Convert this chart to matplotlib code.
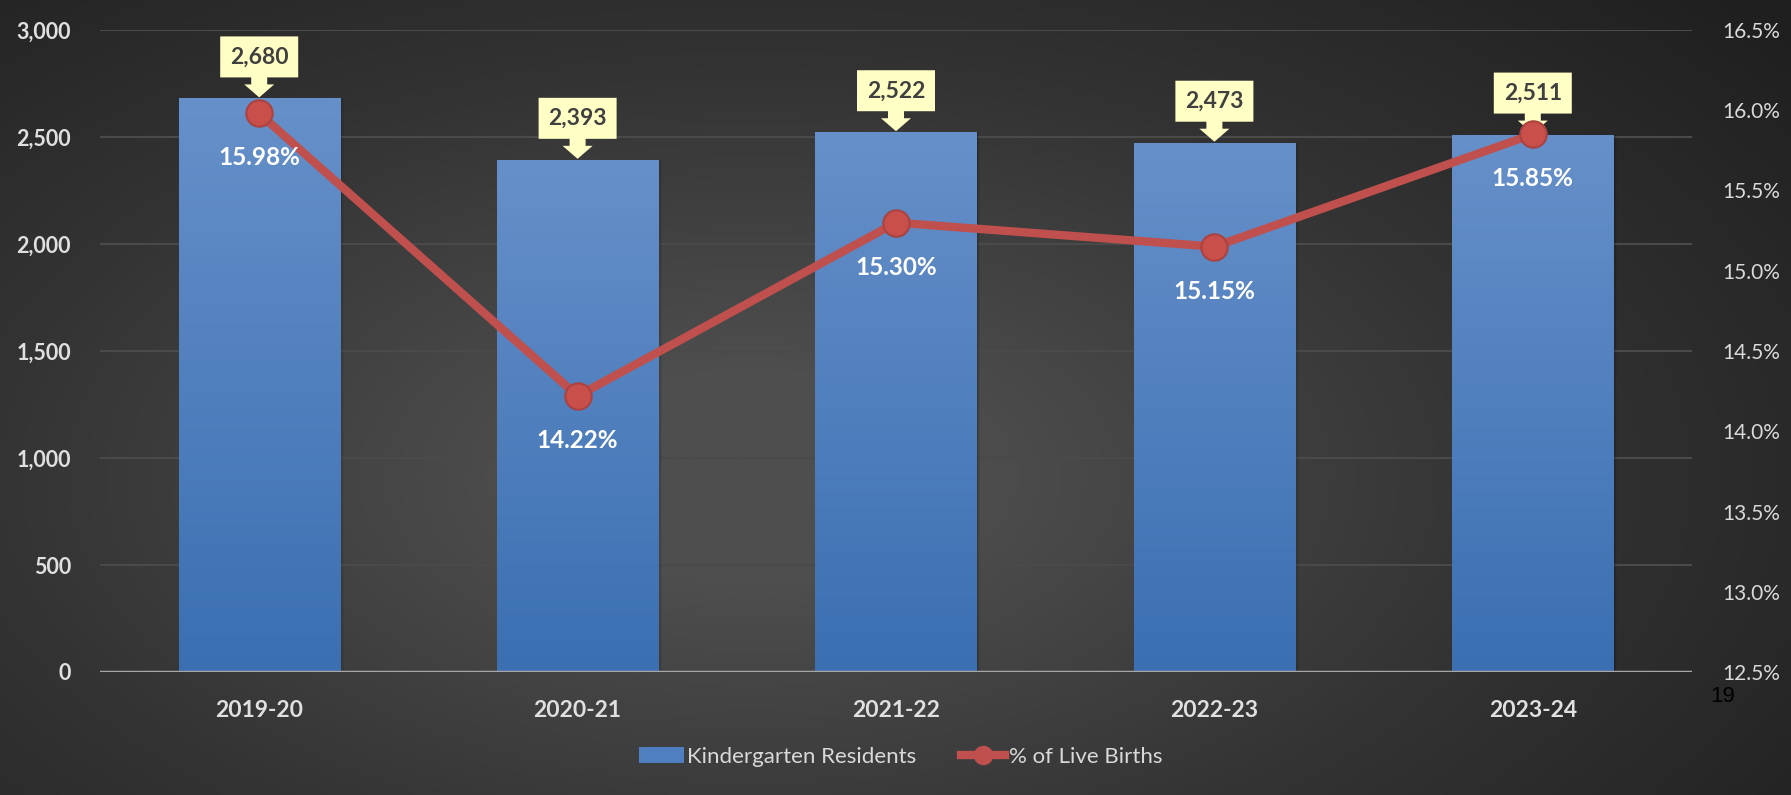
import numpy as np
import matplotlib.pyplot as plt
import matplotlib.transforms as mtransforms
from matplotlib.colors import LinearSegmentedColormap
from matplotlib.patches import Polygon, Rectangle, Patch
from matplotlib.lines import Line2D

plt.rcParams['font.family'] = ['Lato', 'DejaVu Sans']

# data
years = ['2019-20', '2020-21', '2021-22', '2022-23', '2023-24']
residents = [2680, 2393, 2522, 2473, 2511]
pct_births = [15.98, 14.22, 15.30, 15.15, 15.85]
left_ticks = [0, 500, 1000, 1500, 2000, 2500, 3000]
right_ticks = [12.5, 13.0, 13.5, 14.0, 14.5, 15.0, 15.5, 16.0, 16.5]

txt_col = '#E0E0E0'
red = '#C0504D'

fig = plt.figure(figsize=(17.91, 7.95), dpi=100)

# dark radial background
bg = fig.add_axes([0, 0, 1, 1], zorder=-10)
yy, xx = np.mgrid[0:1:300j, 0:1:600j]
r = np.sqrt(((xx - 0.42) / 0.75) ** 2 + ((yy - 0.6) / 0.9) ** 2)
shade = np.clip(1 - r, 0, 1)
bg.imshow(shade, cmap=LinearSegmentedColormap.from_list(
    'bgc', ['#1f1f1f', '#333333', '#4e4e4e']), extent=[0, 1, 0, 1],
    aspect='auto', origin='upper', vmin=0, vmax=0.85)
bg.axis('off')

ax = fig.add_axes([100 / 1791, 1 - 672 / 795, 1592 / 1791, 642 / 795])
ax.set_facecolor('none')
ax2 = ax.twinx()

x = np.arange(len(years))
w = 0.506
ax.grid(axis='y', color='#4a4a4a', linewidth=1.5, zorder=0)
ax.set_axisbelow(True)

grad = np.linspace(1, 0, 256).reshape(-1, 1)
bar_cmap = LinearSegmentedColormap.from_list('barc', ['#3B6FB2', '#6690C9'])
for xi, h in zip(x, residents):
    # soft shadow on the right
    for k, a in enumerate([0.12, 0.08, 0.05]):
        ax.add_patch(Rectangle((xi - w / 2 + 0.004 * (k + 1), 0), w, h, facecolor='black',
                               alpha=a, edgecolor='none', zorder=1))
    rect = Rectangle((xi - w / 2, 0), w, h, facecolor='none', edgecolor='none', zorder=2)
    ax.add_patch(rect)
    im = ax.imshow(grad, cmap=bar_cmap, extent=[xi - w / 2, xi + w / 2, 0, h],
                   aspect='auto', zorder=2, vmin=0, vmax=1)
    im.set_clip_path(rect)

ax.set_xlim(-0.5, len(years) - 0.5)
ax.set_ylim(0, 3000)
ax.axhline(0, color='#A6A6A6', linewidth=2.5, zorder=3)

# callouts above bars
shape = np.array([[-39, 20], [39, 20], [39, 61], [-39, 61], [-39, 20],
                  [-8, 20], [-8, 13], [-15, 13], [0, 0], [15, 13], [8, 13], [8, 20]]) / 100.0
for xi, h in zip(x, residents):
    tr = fig.dpi_scale_trans + mtransforms.ScaledTranslation(xi, h + 5, ax.transData)
    ax.add_patch(Polygon(shape, closed=True, transform=tr, facecolor='#FFFFC5',
                         edgecolor='none', zorder=6, clip_on=False))
    ax.text(0, 0.405, f'{h:,}', transform=tr, ha='center', va='center',
            fontsize=16.5, fontweight='bold', color='#404040', zorder=7, clip_on=False)

ax.tick_params(axis='x', length=0, pad=20)
ax.tick_params(axis='y', length=0, pad=21)
ax.set_xticks(x, years)
ax.set_yticks(left_ticks, [f'{v:,}' for v in left_ticks])
for s in ax.spines.values():
    s.set_visible(False)

# line on secondary axis
ax2.set_ylim(12.5, 16.5)
ax2.tick_params(axis='y', length=0, pad=22)
ax2.set_yticks(right_ticks, [f'{v:.1f}%' for v in right_ticks])
for s in ax2.spines.values():
    s.set_visible(False)
ax2.plot(x, pct_births, color=red, linewidth=6, marker='o', markersize=19,
         markerfacecolor='#C94F4B', markeredgecolor='#A94240', markeredgewidth=1.5,
         zorder=5, solid_capstyle='round')
for xi, p in zip(x, pct_births):
    ax2.annotate(f'{p:.2f}%', (xi, p), xytext=(0, -32), textcoords='offset points',
                 ha='center', va='center', fontsize=17.5, fontweight='bold', color='white',
                 zorder=8)

handles = [Patch(facecolor='#4F7FC0', edgecolor='none'),
           Line2D([0], [0], color=red, linewidth=6, marker='o', markersize=13,
                  markerfacecolor=red, markeredgecolor=red)]
fig.legend(handles, ['Kindergarten Residents', '% of Live Births'], loc='center',
           bbox_to_anchor=(0.503, 1 - 757 / 795), ncol=2, frameon=False,
           fontsize=16, labelcolor='#D9D9D9', handlelength=2.0, handletextpad=0.15,
           columnspacing=2.0)

fig.text(1723 / 1791, 1 - 697 / 795, '19', ha='center', va='center', fontsize=16,
         color='black', family='Liberation Sans')

# style tick labels after layout so nothing resets them
fig.canvas.draw()
for lab in ax.get_xticklabels():
    lab.set_fontweight('bold')
    lab.set_fontsize(16.5)
    lab.set_color(txt_col)
for lab in ax.get_yticklabels():
    lab.set_fontweight('bold')
    lab.set_fontsize(15.5)
    lab.set_color(txt_col)
for lab in ax2.get_yticklabels():
    lab.set_fontsize(15)
    lab.set_color('#D9D9D9')

fig.savefig('out.png', dpi=100)
